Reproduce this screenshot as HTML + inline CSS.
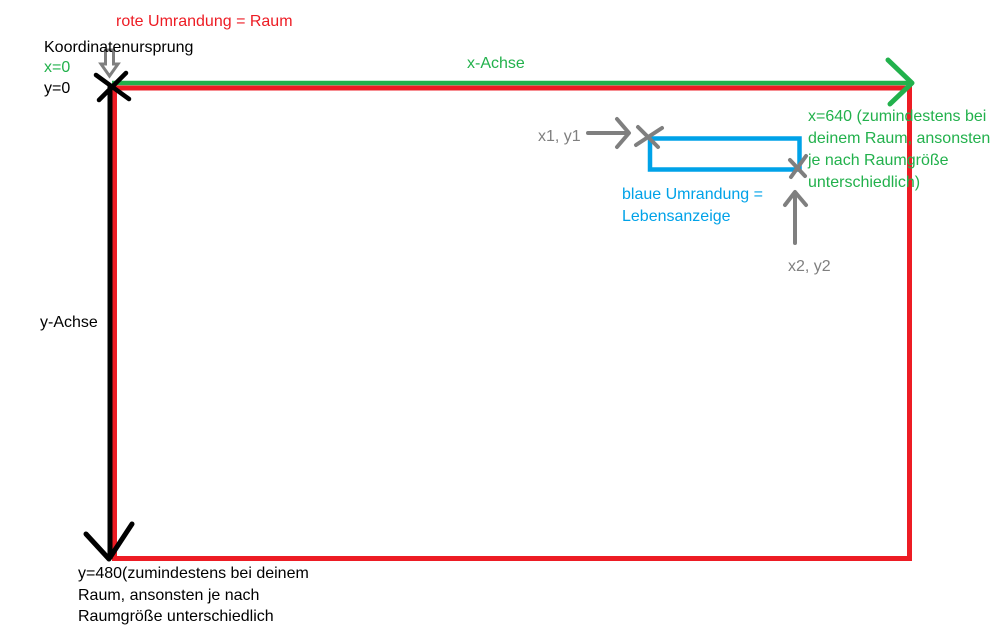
<!DOCTYPE html>
<html>
<head>
<meta charset="utf-8">
<style>
html,body{margin:0;padding:0;background:#fff;}
svg{display:block;}
text{font-family:"Liberation Sans","DejaVu Sans",sans-serif;font-size:16px;}
</style>
</head>
<body>
<svg width="1008" height="630" viewBox="0 0 1008 630" xmlns="http://www.w3.org/2000/svg">
<rect width="1008" height="630" fill="#fff"/>
<!-- red room -->
<rect x="114.5" y="88" width="795" height="470.5" fill="none" stroke="#ed1c24" stroke-width="5"/>
<!-- green x axis -->
<line x1="112" y1="83" x2="912" y2="83" stroke="#22b14c" stroke-width="4.5"/>
<polyline points="888,60 912,83 890,104" fill="none" stroke="#22b14c" stroke-width="5" stroke-linecap="round" stroke-linejoin="round"/>
<!-- black y axis -->
<line x1="110" y1="86" x2="110" y2="559" stroke="#000" stroke-width="5"/>
<polyline points="86,534 109,559 132,524" fill="none" stroke="#000" stroke-width="5" stroke-linecap="round" stroke-linejoin="round"/>
<!-- black X at origin -->
<line x1="96" y1="75" x2="129" y2="99" stroke="#000" stroke-width="4.5" stroke-linecap="round"/>
<line x1="126" y1="73" x2="99" y2="100" stroke="#000" stroke-width="4.5" stroke-linecap="round"/>
<!-- gray hollow down arrow -->
<polygon points="105.5,50 113.5,50 113.5,64 118,64 109.5,76 101,64 105.5,64" fill="#fff" stroke="#7f7f7f" stroke-width="3" stroke-linejoin="miter"/>
<!-- blue rect -->
<rect x="650" y="138.5" width="149.5" height="31" fill="none" stroke="#00a2e8" stroke-width="4.5"/>
<!-- gray X1 -->
<line x1="638" y1="127" x2="658" y2="147" stroke="#7f7f7f" stroke-width="4" stroke-linecap="round"/>
<line x1="636" y1="145" x2="662" y2="128" stroke="#7f7f7f" stroke-width="4" stroke-linecap="round"/>
<!-- gray X2 -->
<line x1="790" y1="160" x2="805" y2="176" stroke="#7f7f7f" stroke-width="4" stroke-linecap="round"/>
<line x1="806" y1="156" x2="791" y2="177" stroke="#7f7f7f" stroke-width="4" stroke-linecap="round"/>
<!-- gray right arrow -->
<line x1="588" y1="133" x2="628" y2="133" stroke="#7f7f7f" stroke-width="4" stroke-linecap="round"/>
<polyline points="617,119 629,133 617,147" fill="none" stroke="#7f7f7f" stroke-width="4" stroke-linecap="round" stroke-linejoin="round"/>
<!-- gray up arrow -->
<line x1="795" y1="243" x2="795" y2="193" stroke="#7f7f7f" stroke-width="4" stroke-linecap="round"/>
<polyline points="785,205 795,192 806,205" fill="none" stroke="#7f7f7f" stroke-width="4" stroke-linecap="round" stroke-linejoin="round"/>
<!-- texts -->
<text x="116" y="26" fill="#ed1c24">rote Umrandung = Raum</text>
<text x="44" y="52" fill="#000">Koordinatenursprung</text>
<text x="44" y="72" fill="#22b14c">x=0</text>
<text x="44" y="93" fill="#000">y=0</text>
<text x="467" y="68" fill="#22b14c">x-Achse</text>
<text x="40" y="327" fill="#000">y-Achse</text>
<text x="538" y="141" fill="#7f7f7f">x1, y1</text>
<text x="808" y="121" fill="#22b14c">x=640 (zumindestens bei</text>
<text x="808" y="143" fill="#22b14c">deinem Raum, ansonsten</text>
<text x="808" y="165" fill="#22b14c">je nach Raumgröße</text>
<text x="808" y="187" fill="#22b14c">unterschiedlich)</text>
<text x="622" y="199" fill="#00a2e8">blaue Umrandung =</text>
<text x="622" y="221" fill="#00a2e8">Lebensanzeige</text>
<text x="788" y="271" fill="#7f7f7f">x2, y2</text>
<text x="78" y="578" fill="#000">y=480(zumindestens bei deinem</text>
<text x="78" y="600" fill="#000">Raum, ansonsten je nach</text>
<text x="78" y="621" fill="#000">Raumgröße unterschiedlich</text>
</svg>
</body>
</html>
